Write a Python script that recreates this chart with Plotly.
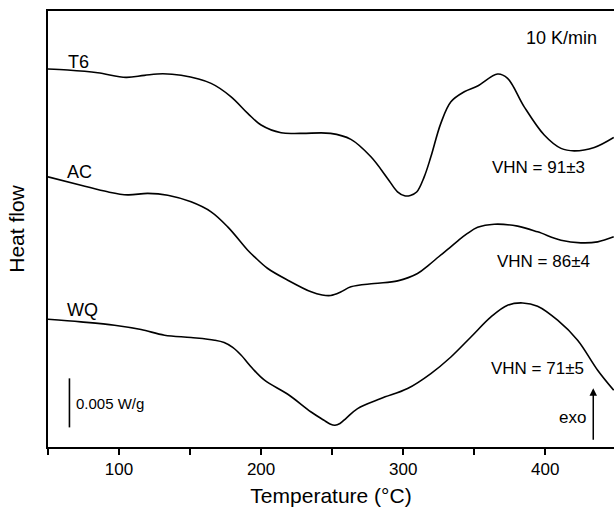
import plotly.graph_objects as go

# Temperatures (°C) and heat flow (mW/g, with vertical offsets as drawn)
t6_T = [50, 63.9, 85.0, 104.9, 117.9, 130.8, 143.7, 164.8, 178.9, 190.6, 200.0, 214.1,
        228.2, 248.9, 263.2, 277.3, 289.0, 296.0, 301.0, 305.0, 309.5, 314.8, 319.5, 326.5,
        333.6, 343.0, 352.4, 366.5, 373.5, 385.2, 399.3, 411.1, 420.4, 434.5, 448.2]
t6_H = [38.54, 38.44, 38.16, 37.69, 37.90, 38.06, 37.90, 37.08, 35.71, 34.02, 32.83, 32.04,
        31.98, 31.98, 31.37, 29.59, 27.39, 26.02, 25.62, 25.65, 26.00, 27.55, 29.59, 33.0,
        35.20, 36.22, 36.81, 38.03, 37.59, 34.69, 31.81, 30.45, 30.20, 30.55, 31.57]

ac_T = [50, 73.2, 92.0, 106.1, 120.2, 134.3, 150.7, 164.8, 176.5, 190.6, 195.4, 204.7,
        218.8, 235.2, 243.0, 249.0, 256.0, 263.2, 279.6, 296.1, 310.1, 318.0, 325.0, 331.3, 338.3,
        345.0, 352.4, 364.1, 380.6, 394.6, 411.1, 425.1, 436.9, 448.2]
ac_H = [27.55, 26.70, 26.02, 25.71, 25.86, 25.68, 25.00, 23.98, 22.45, 20.07, 19.39, 18.20,
        17.01, 15.82, 15.50, 15.45, 15.80, 16.33, 16.67, 16.94, 17.69, 18.55, 19.40, 20.15, 21.00,
        21.75, 22.40, 22.72, 22.52, 21.94, 21.09, 20.82, 20.92, 21.43]

wq_T = [50, 73.2, 96.8, 115.5, 132.0, 150.7, 167.2, 174.0, 180.0, 186.0, 194.0, 202.4, 218.8, 235.2,
        244.0, 248.5, 252.0, 255.5, 260.0, 267.9, 284.3, 303.1, 319.5, 333.6, 347.7, 361.8, 373.5,
        384.1, 394.6, 408.7, 422.8, 436.9, 448.2]
wq_H = [13.03, 12.76, 12.42, 11.98, 11.40, 11.16, 10.89, 10.65, 10.15, 9.35, 8.00, 6.81, 5.38, 3.57,
        2.75, 2.35, 2.22, 2.40, 2.95, 3.92, 4.94, 5.96, 7.49, 9.18, 11.22, 13.27, 14.46,
        14.69, 14.36, 12.93, 10.89, 7.83, 5.79]

samples = ["T6", "AC", "WQ"]
hardness = ["VHN = 91±3", "VHN = 86±4", "VHN = 71±5"]

scale_bar_T = [65.1, 65.1]
scale_bar_H = [2.0, 7.0]

FONT = "Arial, Liberation Sans, sans-serif"

fig = go.Figure()
for T, H, name in [(t6_T, t6_H, samples[0]), (ac_T, ac_H, samples[1]), (wq_T, wq_H, samples[2])]:
    fig.add_trace(go.Scatter(x=T, y=H, mode="lines", name=name,
                             line=dict(color="black", width=1.6, shape="spline", smoothing=1.0),
                             showlegend=False, hoverinfo="skip"))

fig.add_trace(go.Scatter(x=scale_bar_T, y=scale_bar_H, mode="lines",
                         line=dict(color="black", width=1.6), showlegend=False, hoverinfo="skip"))

ann = [
    dict(x=62.5, y=39.26, text=samples[0], xanchor="left", size=18),
    dict(x=62.0, y=28.08, text=samples[1], xanchor="left", size=18),
    dict(x=62.0, y=13.92, text=samples[2], xanchor="left", size=18),
    dict(x=411.4, y=41.67, text="10 K/min", xanchor="center", size=18),
    dict(x=395.2, y=28.54, text=hardness[0], xanchor="center", size=17),
    dict(x=399.1, y=18.88, text=hardness[1], xanchor="center", size=17),
    dict(x=394.2, y=8.00, text=hardness[2], xanchor="center", size=17),
    dict(x=419.2, y=2.98, text="exo", xanchor="center", size=17),
    dict(x=68.6, y=4.43, text="0.005 W/g", xanchor="left", size=15),
]
for a in ann:
    fig.add_annotation(x=a["x"], y=a["y"], xref="x", yref="y", text=a["text"],
                       showarrow=False, xanchor=a["xanchor"], yanchor="middle",
                       font=dict(family=FONT, size=a["size"], color="black"))

fig.add_annotation(x=433.8, y=5.99, ax=433.8, ay=0.58, xref="x", yref="y",
                   axref="x", ayref="y", text="", showarrow=True,
                   arrowhead=2, arrowsize=1, arrowwidth=1.5, arrowcolor="black")

fig.update_layout(
    width=614, height=512,
    margin=dict(l=48.3, r=0, t=11, b=65.3),
    paper_bgcolor="white", plot_bgcolor="white",
    font=dict(family=FONT, color="black"),
    xaxis=dict(range=[50, 448.4], dtick=100, tick0=0, ticks="outside", ticklen=6,
               tickwidth=1.8, tickcolor="black", showline=True, linewidth=2,
               linecolor="black", mirror=True, showgrid=False, zeroline=False,
               tickfont=dict(size=17, family=FONT),
               minor=dict(dtick=50, tick0=0, ticks="outside", ticklen=6,
                          tickwidth=1.8, tickcolor="black", showgrid=False),
               title=dict(text="Temperature (°C)", font=dict(size=21, family=FONT), standoff=10)),
    yaxis=dict(range=[0, 44.46], showticklabels=False, ticks="", showline=True,
               linewidth=2, linecolor="black", showgrid=False, zeroline=False,
               title=dict(text="Heat flow", font=dict(size=21, family=FONT), standoff=16)),
)

fig.write_html("out.html")
